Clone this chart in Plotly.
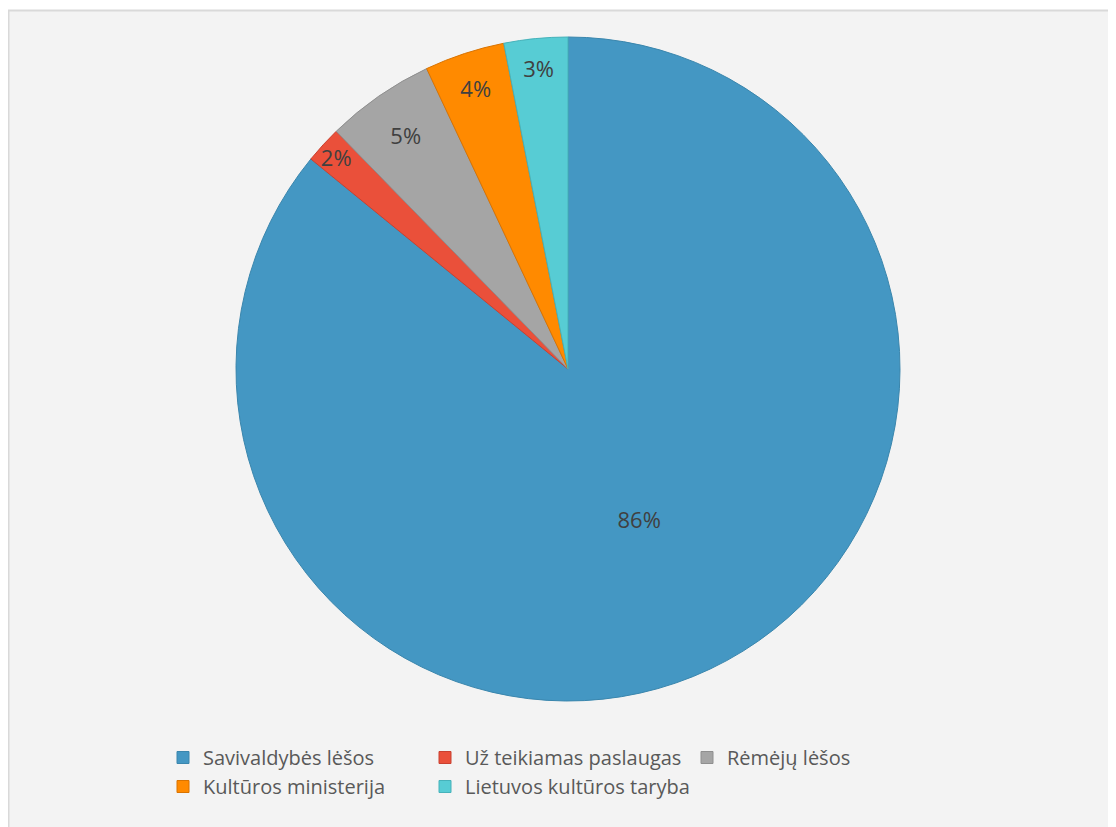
import plotly.graph_objects as go

categories = ["Savivaldybės lėšos", "Už teikiamas paslaugas", "Rėmėjų lėšos",
              "Kultūros ministerija", "Lietuvos kultūros taryba"]
values = [85.9, 1.8, 5.3, 3.9, 3.1]
colors = ["#4497c3", "#ea503a", "#a5a5a5", "#ff8a00", "#57ccd4"]
line_colors = ["#3a86ad", "#c94030", "#8f8f8f", "#d97300", "#46b2ba"]

W, H = 1116, 827
MR = 100                      # right margin keeps legend to three items per row
PW = W - MR                   # plot-area width in px
cx, cy, r = 560, 361, 332

fig = go.Figure(go.Pie(
    labels=categories,
    values=values,
    sort=False,
    direction="clockwise",
    rotation=0,
    marker=dict(colors=colors, line=dict(color=line_colors, width=1)),
    texttemplate="%{percent:.0%}",
    textposition="inside",
    insidetextorientation="horizontal",
    textfont=dict(family="Open Sans", size=22, color="#404040"),
    hoverinfo="label+percent",
    domain=dict(x=[(cx - r) / PW, (cx + r) / PW], y=[1 - (cy + r) / H, 1 - (cy - r) / H]),
))

fig.update_layout(
    width=W, height=H,
    margin=dict(l=0, r=MR, t=0, b=0),
    paper_bgcolor="white",
    plot_bgcolor="white",
    showlegend=True,
    uniformtext=dict(minsize=22, mode="show"),
    legend=dict(
        orientation="h",
        x=155 / PW, xanchor="left",
        y=1 - 730 / H, yanchor="top",
        font=dict(family="Open Sans", size=20, color="#595959"),
        entrywidth=217, entrywidthmode="pixels",
        itemwidth=30,
        bgcolor="rgba(0,0,0,0)",
    ),
    shapes=[dict(type="rect", xref="paper", yref="paper",
                 x0=0.5 / PW, x1=(W + 10) / PW, y0=-0.01, y1=1 - 2.5 / H,
                 fillcolor="#f3f3f3", line=dict(color="#d9d9d9", width=2), layer="below")],
)

fig.write_html("out.html")
